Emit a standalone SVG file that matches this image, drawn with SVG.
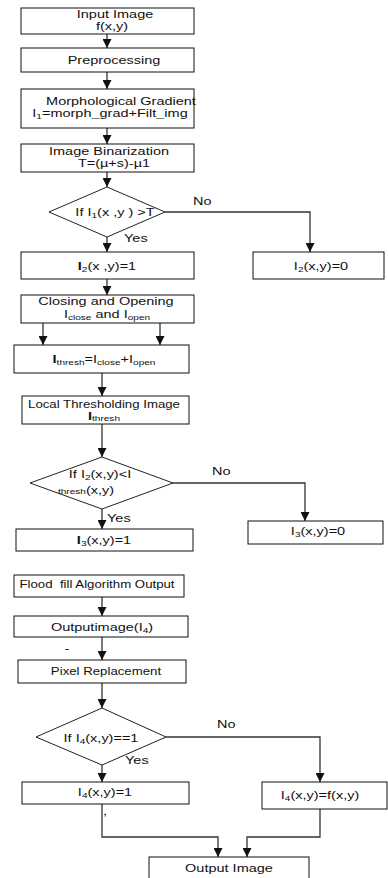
<svg xmlns="http://www.w3.org/2000/svg" width="388" height="878" viewBox="0 0 388 878">
<defs>
<marker id="ah" markerUnits="userSpaceOnUse" markerWidth="9" markerHeight="9" refX="9" refY="4.5" orient="auto">
<path d="M0,0 L9,4.5 L0,9 z" fill="#111"/>
</marker>
<style>
.box{fill:#fff;stroke:#111;stroke-width:1}
.dia{fill:#fff;stroke:#222;stroke-width:1}
.t{font-family:"Liberation Sans",Arial,sans-serif;font-size:11.5px;fill:#111;text-anchor:middle}
.s{font-size:10.5px}
.l{text-anchor:start}
.sub{font-size:8px}
.c{fill:none;stroke:#333;stroke-width:1.3}
.a{marker-end:url(#ah)}
</style>
</defs>
<rect width="388" height="878" fill="#fff"/>

<g id="connectors">
<path class="c a" d="M107,34 V48"/>
<path class="c a" d="M107,72 V89"/>
<path class="c a" d="M107,128 V144"/>
<path class="c a" d="M107,172 V187"/>
<path class="c a" d="M107,237 V252"/>
<path class="c a" d="M165,212 H310 V252"/>
<path class="c a" d="M107,279 V295"/>
<path class="c a" d="M43,323 V345"/>
<path class="c a" d="M160,323 V345"/>
<path class="c a" d="M102,373 V396"/>
<path class="c a" d="M102,424 V457"/>
<path class="c a" d="M102,509 V529"/>
<path class="c a" d="M173,483 H305 V521"/>
<path class="c a" d="M102,597 V616"/>
<path class="c a" d="M102,637 V660"/>
<path class="c a" d="M102,683 V708"/>
<path class="c a" d="M102,765 V782"/>
<path class="c a" d="M166,737 H320 V782"/>
<path class="c a" d="M102,804 V837 H218 V857"/>
<path class="c a" d="M320,809 V837 H247 V857"/>
</g>

<g id="n-input">
<rect class="box" x="21" y="8" width="173" height="26"/>
<text class="t" x="0" y="18" transform="translate(115 0) scale(1.26 1)">Input Image</text>
<text class="t" x="0" y="30" transform="translate(112 0) scale(1.26 1)">f(x,y)</text>
</g>

<g id="n-pre">
<rect class="box" x="21" y="48" width="173" height="24"/>
<text class="t" x="0" y="64" transform="translate(114 0) scale(1.26 1)">Preprocessing</text>
</g>

<g id="n-morph">
<rect class="box" x="21" y="89" width="173" height="39"/>
<text class="t" x="0" y="105" transform="translate(121 0) scale(1.26 1)">Morphological Gradient</text>
<text class="t" x="0" y="117" transform="translate(110 0) scale(1.26 1)">I<tspan class="sub" dy="2">1</tspan><tspan dy="-2">=morph_grad+Filt_img</tspan></text>
</g>

<g id="n-bin">
<rect class="box" x="21" y="144" width="173" height="28"/>
<text class="t" x="0" y="155" transform="translate(109 0) scale(1.26 1)">Image Binarization</text>
<text class="t" x="0" y="167" transform="translate(114 0) scale(1.26 1)">T=(µ+s)-µ1</text>
</g>

<g id="d-1">
<polygon class="dia" points="107,187 165,212 107,237 49,212"/>
<text class="t" x="0" y="216" transform="translate(115 0) scale(1.26 1)">If I<tspan class="sub" dy="2">1</tspan><tspan dy="-2">(x ,y ) &gt;T</tspan></text>
<text class="t l" x="0" y="205" transform="translate(193 0) scale(1.26 1)">No</text>
<text class="t l" x="0" y="242" transform="translate(124 0) scale(1.26 1)">Yes</text>
</g>

<g id="n-i2one">
<rect class="box" x="21" y="252" width="173" height="27"/>
<text class="t" x="0" y="270" transform="translate(107 0) scale(1.26 1)"><tspan font-weight="bold">I</tspan><tspan class="sub" dy="2">2</tspan><tspan dy="-2">(x ,y)=1</tspan></text>
</g>

<g id="n-i2zero">
<rect class="box" x="253" y="252" width="131" height="27"/>
<text class="t" x="0" y="270" transform="translate(321 0) scale(1.26 1)">I<tspan class="sub" dy="2">2</tspan><tspan dy="-2">(x,y)=0</tspan></text>
</g>

<g id="n-close">
<rect class="box" x="21" y="295" width="173" height="28"/>
<text class="t" x="0" y="305" transform="translate(106 0) scale(1.26 1)">Closing and Opening</text>
<text class="t" x="0" y="318" transform="translate(107 0) scale(1.26 1)">I<tspan class="sub" dy="2">close</tspan><tspan dy="-2"> and I</tspan><tspan class="sub" dy="2">open</tspan></text>
</g>

<g id="n-thresh">
<rect class="box" x="14" y="345" width="175" height="28"/>
<text class="t" x="0" y="363" transform="translate(104 0) scale(1.26 1)"><tspan font-weight="bold">I</tspan><tspan class="sub" dy="2">thresh</tspan><tspan dy="-2">=I</tspan><tspan class="sub" dy="2">close</tspan><tspan dy="-2">+I</tspan><tspan class="sub" dy="2">open</tspan></text>
</g>

<g id="n-local">
<rect class="box" x="22" y="396" width="167" height="28"/>
<text class="t s" x="0" y="408" transform="translate(104 0) scale(1.26 1)">Local Thresholding Image</text>
<text class="t" x="0" y="420" transform="translate(104 0) scale(1.26 1)"><tspan font-weight="bold">I</tspan><tspan class="sub" dy="1.5">thresh</tspan></text>
</g>

<g id="d-2">
<polygon class="dia" points="102,457 173,483 102,509 30,483"/>
<text class="t" x="0" y="478" transform="translate(100 0) scale(1.26 1)">If I<tspan class="sub" dy="2">2</tspan><tspan dy="-2">(x,y)&lt;I</tspan></text>
<text class="t" x="0" y="494" transform="translate(86 0) scale(1.26 1)"><tspan class="sub">thresh</tspan><tspan>(x,y)</tspan></text>
<text class="t l" x="0" y="475" transform="translate(212 0) scale(1.26 1)">No</text>
<text class="t l" x="0" y="522" transform="translate(107 0) scale(1.26 1)">Yes</text>
</g>

<g id="n-i3one">
<rect class="box" x="16" y="529" width="177" height="22"/>
<text class="t" x="0" y="544" transform="translate(104 0) scale(1.26 1)"><tspan font-weight="bold">I</tspan><tspan class="sub" dy="2">3</tspan><tspan dy="-2">(x,y)=1</tspan></text>
</g>

<g id="n-i3zero">
<rect class="box" x="248" y="521" width="135" height="23"/>
<text class="t" x="0" y="535" transform="translate(318 0) scale(1.26 1)">I<tspan class="sub" dy="2">3</tspan><tspan dy="-2">(x,y)=0</tspan></text>
</g>

<g id="n-flood">
<rect class="box" x="14" y="575" width="170" height="22"/>
<text class="t s" x="0" y="588" transform="translate(97 0) scale(1.26 1)" xml:space="preserve">Flood  fill Algorithm Output</text>
</g>

<g id="n-outimg">
<rect class="box" x="14" y="616" width="174" height="21"/>
<text class="t" x="0" y="631" transform="translate(102 0) scale(1.26 1)">Outputimage(I<tspan class="sub" dy="2">4</tspan><tspan dy="-2">)</tspan></text>
<text class="t" x="0" y="652" transform="translate(67 0) scale(1.26 1)">-</text>
</g>

<g id="n-pixel">
<rect class="box" x="18" y="660" width="168" height="23"/>
<text class="t s" x="0" y="675" transform="translate(106 0) scale(1.26 1)">Pixel Replacement</text>
</g>

<g id="d-3">
<polygon class="dia" points="102,708 166,737 102,765 36,737"/>
<text class="t" x="0" y="742" transform="translate(101 0) scale(1.26 1)">If I<tspan class="sub" dy="2">4</tspan><tspan dy="-2">(x,y)==1</tspan></text>
<text class="t l" x="0" y="728" transform="translate(217 0) scale(1.26 1)">No</text>
<text class="t l" x="0" y="764" transform="translate(125 0) scale(1.26 1)">Yes</text>
</g>

<g id="n-i4one">
<rect class="box" x="22" y="782" width="167" height="22"/>
<text class="t" x="0" y="796" transform="translate(105 0) scale(1.26 1)">I<tspan class="sub" dy="2">4</tspan><tspan dy="-2">(x,y)=1</tspan></text>
<text class="t" x="0" y="815" transform="translate(105 0) scale(1.26 1)">,</text>
</g>

<g id="n-i4f">
<rect class="box" x="262" y="782" width="125" height="27"/>
<text class="t" x="0" y="799" transform="translate(320 0) scale(1.26 1)">I<tspan class="sub" dy="2">4</tspan><tspan dy="-2">(x,y)=f(x,y)</tspan></text>
</g>

<g id="n-output">
<rect class="box" x="149" y="857" width="160" height="30"/>
<text class="t" x="0" y="872" transform="translate(229 0) scale(1.26 1)">Output Image</text>
</g>
</svg>
